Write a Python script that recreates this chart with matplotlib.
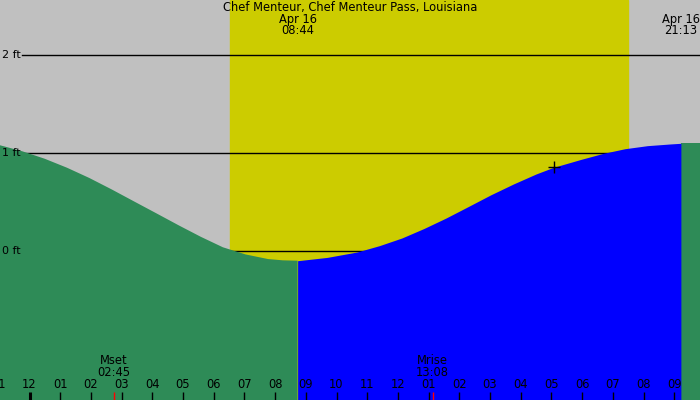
import matplotlib
matplotlib.use("Agg")
from matplotlib import pyplot as plt
import numpy as np

# tide height readings (hours since midnight Apr 16, feet)
tide_hours = [-0.961, -0.24, 0.49, 1.22, 1.95, 2.68, 3.40, 4.13, 4.86, 5.58,
              6.30, 7.04, 7.77, 8.25, 8.733, 9.70, 10.67, 11.40, 12.13,
              12.85, 13.57, 14.30, 15.03, 15.77, 16.50, 17.07, 17.93, 18.67,
              19.40, 20.13, 20.86, 21.217, 21.84]
tide_ft = [1.079, 1.018, 0.942, 0.850, 0.745, 0.628, 0.507, 0.385, 0.262,
           0.145, 0.038, -0.035, -0.082, -0.095, -0.099, -0.065, -0.010,
           0.055, 0.133, 0.230, 0.337, 0.455, 0.574, 0.685, 0.786, 0.854,
           0.932, 0.995, 1.044, 1.075, 1.092, 1.099, 1.099]

low_time, high_time = 8.733, 21.217
low_label, high_label = "08:44", "21:13"
sunrise, sunset = 6.53, 19.49
moon_events = [("Mset", "02:45", 2.75), ("Mrise", "13:08", 13.133)]
now_hour, now_ft = 17.07, 0.854
levels = [0, 1, 2]
hours = list(range(-1, 22))

title = "Chef Menteur, Chef Menteur Pass, Louisiana"
date_label = "Apr 16"

plt.rcParams['font.family'] = 'DejaVu Sans'
fig = plt.figure(figsize=(7, 4), dpi=100, facecolor='#c0c0c0')
ax = fig.add_axes([0, 0, 1, 1])
ax.set_xlim(-0.961, 21.84)
ax.set_ylim(-1.52, 2.561)
ax.axis('off')

ax.axvspan(sunrise, sunset, color='#cccc00', zorder=1)

for lv in levels:
    ax.axhline(lv, xmin=22/700, xmax=1, color='black', lw=1, zorder=2)
    ax.text(2/700, lv, "%d ft" % lv, transform=ax.get_yaxis_transform(),
            ha='left', va='center', fontsize=8, zorder=5)

t = np.array(tide_hours)
v = np.array(tide_ft)
ax.fill_between(t, -2, v, where=(t <= low_time) | (t >= high_time),
                color='#2e8b57', lw=0, zorder=3)
ax.fill_between(t, -2, v, where=(t >= low_time) & (t <= high_time),
                color='#0000ff', lw=0, zorder=3)

ax.plot(now_hour, now_ft, marker='+', color='black', ms=9, mew=1, zorder=4)

xt = ax.get_xaxis_transform()
for h in hours:
    lw = 2.2 if h == 0 else 1
    ax.vlines(h, 0, 8/400, transform=xt, color='black', lw=lw, zorder=4)
    lab = "%02d" % (h % 12 if h % 12 else 12)
    ax.text(h, 1 - 385/400, lab, transform=xt, ha='center', va='center',
            fontsize=8.3, zorder=5)

for name, tm, h in moon_events:
    ax.vlines(h, 0, 8/400, transform=xt, color='red', lw=1, zorder=4)
    ax.text(h, 1 - 361/400, name, transform=xt, ha='center', va='center',
            fontsize=8.3, zorder=5)
    ax.text(h, 1 - 373/400, tm, transform=xt, ha='center', va='center',
            fontsize=8.3, zorder=5)

ax.text(0.5, 1 - 7.5/400, title, transform=ax.transAxes, ha='center',
        va='center', fontsize=8.3, zorder=5)
for h, lab in [(low_time, low_label), (high_time, high_label)]:
    ax.text(h, 1 - 19.5/400, date_label, transform=xt, ha='center',
            va='center', fontsize=8.3, zorder=5)
    ax.text(h, 1 - 31/400, lab, transform=xt, ha='center', va='center',
            fontsize=8.3, zorder=5)

fig.savefig("out.png", dpi=100, facecolor='#c0c0c0')
